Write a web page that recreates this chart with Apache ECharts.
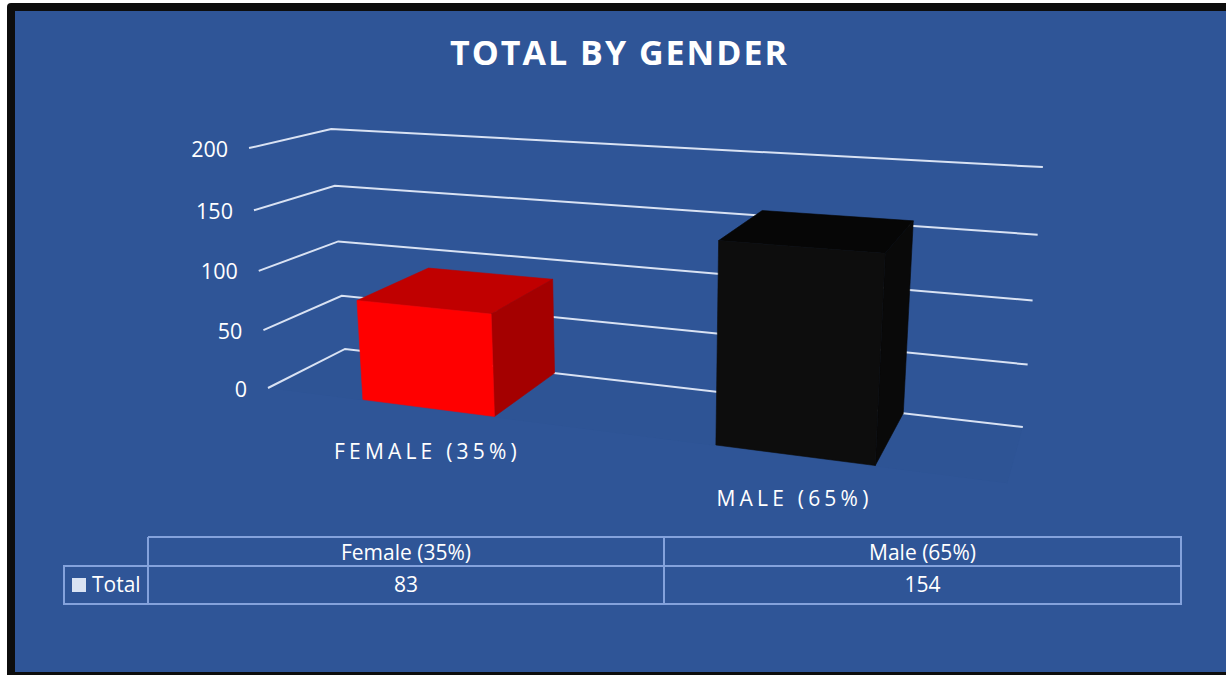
<!DOCTYPE html>
<html><head><meta charset="utf-8">
<style>html,body{margin:0;padding:0;background:#fff}#c{width:1226px;height:675px}</style>
<script src="https://cdn.jsdelivr.net/npm/echarts@6/dist/echarts.min.js"></script>
</head><body><div id="c"></div>
<script>
const titleText = 'TOTAL BY GENDER';
const categories = ['Female (35%)', 'Male (65%)'];
const seriesName = 'Total';
const totals = [83, 154];
const yTicks = [0, 50, 100, 150, 200];

const faceColors = [
  { front: '#FF0000', top: '#C00000', side: '#A40000' },
  { front: '#0D0D0D', top: '#060606', side: '#090909' }
];
const FONT = '"Open Sans"';
const BLUE = '#2F5597', LINE = '#D9E2F3', TABLE = '#84A2DC';

// Perspective camera of the 3D plot box (u: along categories, v: depth, h: height; all 0..1)
function project(u, v, h) {
  const w = 1 - 0.175 * u + 0.0947 * v - 0.0471 * h;
  return [
    (268 + 563 * u + 109.7 * v - 30.7 * h) / w,
    (388 + 10.7 * u - 5.97 * v - 246.9 * h) / w
  ];
}
const toU = (cs, px) => (px - cs.x) / cs.width;
const toH = (cs, py) => (cs.y + cs.height - py) / cs.height;

function renderFloor(params, api) {
  if (params.dataIndex) return null;
  return { type: 'polygon', silent: true,
    shape: { points: [project(0,0,0), project(1,0,0), project(1,1,0), project(0,1,0)] },
    style: { fill: '#2E5495' } };
}

function renderGrid(params, api) {
  const cs = params.coordSys;
  const val = api.value(0);
  const h = toH(cs, api.coord([0, val])[1]);
  const front = project(0, 0, h);
  return { type: 'group', children: [
    { type: 'polyline', silent: true,
      shape: { points: [front, project(0, 1, h), project(1, 1, h)] },
      style: { stroke: LINE, lineWidth: 2, fill: 'none' } },
    { type: 'text', silent: true,
      style: { text: String(val), x: front[0] - 21, y: front[1], align: 'right', verticalAlign: 'middle',
        fill: '#fff', font: '21.5px ' + FONT } }
  ] };
}

function renderBar(params, api) {
  const cs = params.coordSys;
  const i = api.value(0);
  const pt = api.coord([i, api.value(1)]);
  const band = api.size([1, 0])[0] / cs.width;
  const c = toU(cs, pt[0]);
  const u0 = c - band * 0.2, u1 = c + band * 0.195;
  const h = toH(cs, pt[1]);
  const v0 = 0.012, v1 = 1;
  const col = faceColors[i];
  const face = (pts, fill) => ({ type: 'polygon', shape: { points: pts }, style: { fill, stroke: fill, lineWidth: 0.6 } });
  const lp = project(c, 0, 0);
  return { type: 'group', children: [
    face([project(u0,v0,h), project(u1,v0,h), project(u1,v1,h), project(u0,v1,h)], col.top),
    face([project(u1,v0,0), project(u1,v1,0), project(u1,v1,h), project(u1,v0,h)], col.side),
    face([project(u0,v0,0), project(u1,v0,0), project(u1,v0,h), project(u0,v0,h)], col.front),
    { type: 'text', silent: true,
      style: { text: categories[i].toUpperCase(), x: lp[0], y: lp[1] + 42, align: 'center', verticalAlign: 'middle',
        fill: '#fff', font: '21px ' + FONT } }
  ] };
}

// data table
const TX = [64, 148, 664, 1181], TY = [537, 566, 604];
const tline = (pts) => ({ type: 'polyline', silent: true, shape: { points: pts },
  style: { stroke: TABLE, lineWidth: 2, fill: 'none' } });
const ttext = (text, x, y, align) => ({ type: 'text', silent: true,
  style: { text: String(text), x, y, align: align || 'center', verticalAlign: 'middle', fill: '#fff', font: '21px ' + FONT } });
const tableEls = [
  tline([[TX[1],TY[0]],[TX[3],TY[0]],[TX[3],TY[2]],[TX[0],TY[2]],[TX[0],TY[1]],[TX[3],TY[1]]]),
  tline([[TX[1],TY[0]],[TX[1],TY[2]]]),
  tline([[TX[2],TY[0]],[TX[2],TY[2]]]),
  { type: 'rect', silent: true, shape: { x: 72, y: 578, width: 14, height: 14 }, style: { fill: '#DAE3F3' } },
  ttext(seriesName, 92, (TY[1]+TY[2])/2 - 1, 'left')
];
categories.forEach((c, i) => {
  const mid = (TX[i+1] + TX[i+2]) / 2;
  tableEls.push(ttext(c, mid, (TY[0]+TY[1])/2));
  tableEls.push(ttext(totals[i], mid, (TY[1]+TY[2])/2 - 1));
});

const chart = echarts.init(document.getElementById('c'), null, { renderer: 'svg', width: 1226, height: 675 });
chart.setOption({
  animation: false,
  backgroundColor: '#fff',
  title: { text: titleText, left: 614.5, top: 30, textAlign: 'center',
    textStyle: { color: '#fff', fontFamily: FONT, fontWeight: 'bold', fontSize: 34 } },
  grid: { left: 268, top: 129, width: 775, height: 259 },
  xAxis: { type: 'category', data: categories, show: false },
  yAxis: { type: 'value', min: 0, max: 200, interval: 50, show: false },
  graphic: [
    { type: 'rect', z: -10, silent: true, shape: { x: 7, y: 3, width: 1219, height: 672, r: [4,0,0,0] }, style: { fill: '#0D0D0D' } },
    { type: 'rect', z: -9, silent: true, shape: { x: 15, y: 11, width: 1211, height: 661 }, style: { fill: BLUE } },
    { type: 'group', z: 5, children: tableEls }
  ],
  series: [
    { type: 'custom', name: 'floor', coordinateSystem: 'cartesian2d', z: 1, silent: true, data: [[0]], renderItem: renderFloor },
    { type: 'custom', name: 'grid', coordinateSystem: 'cartesian2d', z: 2, silent: true,
      data: yTicks.map(t => [t]), encode: { y: 0 }, renderItem: renderGrid },
    { type: 'custom', name: seriesName, coordinateSystem: 'cartesian2d', z: 3, silent: true,
      data: totals.map((t, i) => [i, t]), encode: { x: 0, y: 1 }, renderItem: renderBar }
  ]
});

function applySpacing() {
  const spacing = { [titleText]: '2px' };
  categories.forEach(c => spacing[c.toUpperCase()] = '4.2px');
  document.querySelectorAll('#c svg text').forEach(t => {
    const s = spacing[t.textContent];
    if (s) t.setAttribute('letter-spacing', s);
  });
}
applySpacing();
chart.on('finished', applySpacing);
</script></body></html>
